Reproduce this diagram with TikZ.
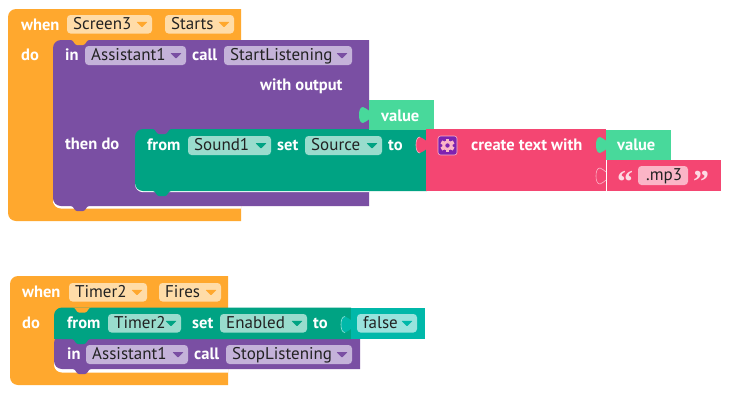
\documentclass[tikz,border=0pt]{standalone}
\usepackage{fontspec}
\setmainfont{PT Sans}
\newfontfamily\quotefont{Liberation Serif}
\definecolor{cOr}{HTML}{FFA82E}
\definecolor{cOrL}{HTML}{FFDCA8}
\definecolor{cOrT}{HTML}{FFA82E}
\definecolor{cPu}{HTML}{7A4FA3}
\definecolor{cPuL}{HTML}{C4B2D9}
\definecolor{cPuT}{HTML}{7A4FA3}
\definecolor{cGr}{HTML}{00A383}
\definecolor{cGrL}{HTML}{99DCCD}
\definecolor{cGrT}{HTML}{00A383}
\definecolor{cPk}{HTML}{F44672}
\definecolor{cPkL}{HTML}{FBB5C7}
\definecolor{cVa}{HTML}{48D99B}
\definecolor{cTe}{HTML}{00B8A9}
\definecolor{cTeL}{HTML}{99E3DD}
\definecolor{cIc}{HTML}{7E22B0}
\definecolor{cTx}{HTML}{222222}
\tikzset{
  x=1pt,y=-1pt,
  lab/.style={anchor=base west,inner sep=0pt,text=white,font=\fontsize{16.5}{18}\selectfont\bfseries},
  ftxt/.style={anchor=base west,inner sep=0pt,text=cTx,font=\fontsize{17}{18}\selectfont},
  fbox/.style={rounded corners=3.5pt},
  quot/.style={anchor=base west,inner sep=0pt,text=cPkL!50!white,font=\fontsize{32}{32}\quotefont\bfseries}
}
% name, x1, x2, ytop, ybot, text, light colour, triangle colour
\newcommand{\fld}[8]{%
  \fill[#7,fbox] (#2,#4) rectangle (#3,#5);
  \node[ftxt] (#1) at (#2+6,#5-4.5) {#6};
  \fill[#8,rounded corners=0.6pt] (#3-15.5,{(#4+#5)/2-2.5}) -- (#3-4.5,{(#4+#5)/2-2.5}) -- (#3-10,{(#4+#5)/2+3}) -- cycle;
}
% x (right edge), ytop, colour : value tab, 16 tall, 10 wide
\newcommand{\tabp}[3]{%
  \fill[#3] (#1+0.5,#2+4) .. controls (#1-2,#2+3.5) and (#1-3,#2) .. (#1-6,#2)
    .. controls (#1-9,#2) and (#1-10,#2+4) .. (#1-10,#2+8)
    .. controls (#1-10,#2+12) and (#1-9,#2+16) .. (#1-6,#2+16)
    .. controls (#1-3,#2+16) and (#1-2,#2+12.5) .. (#1+0.5,#2+12) -- cycle;
}
% outline on the left of a tab: x (right edge), ytop, colour
\newcommand{\tabedge}[3]{%
  \draw[#3,line width=0.6pt] (#1-6,#2) .. controls (#1-9,#2) and (#1-10,#2+4) .. (#1-10,#2+8)
    .. controls (#1-10,#2+12) and (#1-9,#2+16) .. (#1-6,#2+16);
}
% x (left), y: downward notch
\newcommand{\notch}[3]{%
  \fill[#3] (#1,#2) .. controls (#1+3,#2) and (#1+3,#2+5) .. (#1+6,#2+5) -- (#1+12,#2+5) .. controls (#1+15,#2+5) and (#1+15,#2) .. (#1+18,#2) -- cycle;
}
% block with rounded left corners: x1,y1,x2,y2,colour
\newcommand{\blk}[5]{%
  \fill[#5] (#1,#2+8) .. controls (#1,#2+3.6) and (#1+3.6,#2) .. (#1+8,#2) -- (#3,#2) -- (#3,#4) -- (#1+8,#4) .. controls (#1+3.6,#4) and (#1,#4-3.6) .. (#1,#4-8) -- cycle;
}
\begin{document}
\begin{tikzpicture}
\useasboundingbox (0,0) rectangle (729,400);
\fill[white] (0,0) rectangle (729,400);

% ---------- first group ----------
\blk{8}{9}{241}{221}{cOr}
\blk{53}{195}{241}{208.5}{white}
\fill[cOr] (80,208.5) rectangle (241,221);
\blk{53}{40}{369}{206}{cPu}
\notch{71}{40}{cOr}
\notch{71}{206}{cPu}
\blk{135}{170}{369}{192.2}{white}
\blk{135}{129}{427}{191}{cGr}
\notch{153}{129}{cPu}
\notch{153}{191}{cGr}

% value block 1
\fill[cVa] (369,100) rectangle (434,130);
\tabp{369}{107}{cVa}

% pink create-text block
\fill[cPk] (426,129) rectangle (606,191);
\tabp{426}{137}{cPk}
\tabedge{426}{137}{cPkL}
% value block 2
\fill[cVa] (606,130) rectangle (671,160);
\tabp{606}{137}{cVa}
% text block
\fill[cPk] (606,160) rectangle (721,191);
\fill[white] (605.6,160) rectangle (606.6,191);
\draw[cPkL,line width=0.6pt] (606,172) .. controls (604,171.5) and (603,168) .. (600,168) .. controls (597,168) and (596,172) .. (596,176) .. controls (596,180) and (597,184) .. (600,184) .. controls (603,184) and (604,180.5) .. (606,180);

% gear icon
\fill[cIc,draw=cPkL,line width=0.6pt,rounded corners=2.5pt] (438,136) rectangle (457,155);
\foreach \a in {0,60,...,300}{
  \fill[cPkL,rotate around={\a:(447.5,145.5)}] (445.8,138.6) rectangle (449.2,152.4);
}
\fill[cPkL] (447.5,145.5) circle (5.2);
\fill[cIc] (447.5,145.5) circle (2.2);

% texts group 1
\node[lab] (w1) at (21,30) {when};
\fld{f1}{67}{152}{15}{33.5}{Screen3}{cOrL}{cOrT}
\fld{f2}{165}{234}{15}{33.5}{Starts}{cOrL}{cOrT}
\node[lab] (d1) at (21,60) {do};
\node[lab] (i1) at (65,60) {in};
\fld{f3}{85}{186}{46}{65}{Assistant1}{cPuL}{cPuT}
\node[lab] (c1) at (192,60) {call};
\fld{f4}{224}{352}{46}{65}{StartListening}{cPuL}{cPuT}
\node[lab] (wo) at (260,90.5) {with output};
\node[lab] (v1) at (381,121) {value};
\node[lab] (td) at (65,149) {then do};
\node[lab] (fr1) at (147,150) {from};
\fld{f5}{188}{271}{136}{155}{Sound1}{cGrL}{cGrT}
\node[lab] (s1) at (277,150) {set};
\fld{f6}{305}{382}{136}{155}{Source}{cGrL}{cGrT}
\node[lab] (t1) at (388,150) {to};
\node[lab] (ct) at (471,150) {create text with};
\node[lab] (v2) at (617,150) {value};
\node[quot] (q1) at (617,192) {“};
\fill[cPkL,fbox] (638,166) rectangle (688,185);
\node[ftxt] (mp) at (646,180.5) {.mp3};
\node[quot] (q2) at (693,192) {”};

% ---------- second group ----------
\blk{10}{276}{228}{385}{cOr}
\blk{54}{350}{228}{372.5}{white}
\fill[cOr] (80,372.5) rectangle (228,385);
\blk{54}{335}{360}{369}{cPu}
\notch{73}{369}{cPu}
\blk{54}{307.5}{351}{339}{cGr}
\fill[cGr] (54,331) rectangle (351,339);
\notch{73}{307.5}{cOr}
\notch{72}{339}{cGr}

\fill[cTe] (351,308) rectangle (425,338.5);
\tabp{351}{316.5}{cTe}
\tabedge{351}{316.5}{cTeL}

\node[lab] (w2) at (22,297) {when};
\fld{g1}{69}{147}{283}{301.5}{Timer2}{cOrL}{cOrT}
\fld{g2}{159}{221}{283}{301.5}{Fires}{cOrL}{cOrT}
\node[lab] (d2) at (22,328) {do};
\node[lab] (fr2) at (67,328) {from};
\fld{g3}{108}{181}{314}{332.5}{Timer2}{cGrL}{cGrT}
\node[lab] (s2) at (192,328) {set};
\fld{g4}{220}{307}{314}{332.5}{Enabled}{cGrL}{cGrT}
\node[lab] (t2) at (313,328) {to};
\fld{g5}{357}{417}{314}{332.5}{false}{cTeL}{cTe}
\node[lab] (i2) at (67,359) {in};
\fld{g6}{86}{188}{345}{364}{Assistant1}{cPuL}{cPuT}
\node[lab] (c2) at (194,359) {call};
\fld{g7}{226}{352}{345}{364}{StopListening}{cPuL}{cPuT}
\end{tikzpicture}
\end{document}
